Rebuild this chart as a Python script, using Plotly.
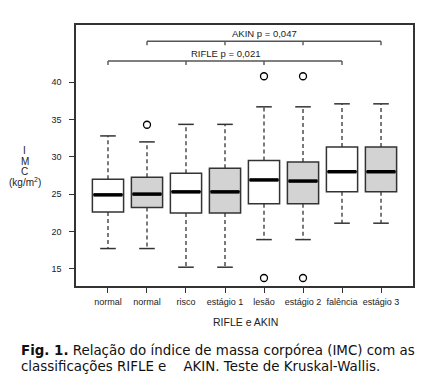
import plotly.graph_objects as go

categories = ["normal", "normal", "risco", "estágio 1", "lesão", "estágio 2", "falência", "estágio 3"]
positions = [1, 2, 3, 4, 5, 6, 7, 8]
fills = ["white", "#d3d3d3", "white", "#d3d3d3", "white", "#d3d3d3", "white", "#d3d3d3"]
lower_whisker = [17.7, 17.7, 15.2, 15.2, 18.9, 18.9, 21.1, 21.1]
q1 = [22.6, 23.2, 22.45, 22.45, 23.7, 23.7, 25.3, 25.3]
median = [24.9, 25.0, 25.3, 25.3, 26.9, 26.75, 28.0, 28.0]
q3 = [27.0, 27.25, 27.8, 28.45, 29.5, 29.3, 31.3, 31.3]
upper_whisker = [32.8, 32.0, 34.35, 34.35, 36.7, 36.7, 37.1, 37.1]
outlier_x = [2, 5, 5, 6, 6]
outlier_y = [34.3, 40.8, 13.75, 40.8, 13.75]

rifle_groups = [1, 3, 5, 7]
akin_groups = [2, 4, 6, 8]
rifle_level = 42.85
akin_level = 45.5
bracket_drop = 0.55
rifle_label = "RIFLE p = 0,021"
akin_label = "AKIN p = 0,047"
y_title_lines = ["I", "M", "C", "(kg/m<sup>2</sup>)"]

# page body has an 8px default margin; the figure is sized to compensate
OFF = 8
W, H = 437 - 2 * OFF, 388 - 2 * OFF
PL, PR, PT, PB = 76, 413, 25, 286  # plot area in page pixels
ML, MT = PL - OFF, PT - OFF
MR = W - ML - (PR - PL)
MB = H - MT - (PB - PT)
LINE = "#333333"
FONT = "Liberation Sans, Arial, sans-serif"

fig = go.Figure()
BW = 0.8
CAP = 0.2
for i, x in enumerate(positions):
    fig.add_trace(go.Box(
        x=[x], q1=[q1[i]], median=[median[i]], q3=[q3[i]],
        lowerfence=[q1[i]], upperfence=[q3[i]],
        width=BW, whiskerwidth=0, fillcolor=fills[i],
        line=dict(color=LINE, width=1.5), boxpoints=False,
        showlegend=False, hoverinfo="skip"))

for i, x in enumerate(positions):
    fig.add_trace(go.Scatter(x=[x, x, None, x, x],
                             y=[q3[i], upper_whisker[i], None, q1[i], lower_whisker[i]],
                             mode="lines", line=dict(color=LINE, width=1.3, dash="4px,3px"),
                             showlegend=False, hoverinfo="skip"))
    fig.add_trace(go.Scatter(x=[x - CAP, x + CAP, None, x - CAP, x + CAP],
                             y=[upper_whisker[i], upper_whisker[i], None, lower_whisker[i], lower_whisker[i]],
                             mode="lines", line=dict(color=LINE, width=1.5),
                             showlegend=False, hoverinfo="skip"))
    fig.add_trace(go.Scatter(x=[x - BW / 2 + 0.03, x + BW / 2 - 0.03], y=[median[i], median[i]],
                             mode="lines", line=dict(color="black", width=3.5),
                             showlegend=False, hoverinfo="skip"))

fig.add_trace(go.Scatter(x=outlier_x, y=outlier_y, mode="markers",
                         marker=dict(symbol="circle-open", size=7, color="black", line=dict(width=1.3)),
                         showlegend=False, hoverinfo="skip"))


def bracket(groups, level):
    xs, ys = [groups[0], groups[-1], None], [level, level, None]
    for g in groups:
        xs += [g, g, None]
        ys += [level, level - bracket_drop, None]
    fig.add_trace(go.Scatter(x=xs, y=ys, mode="lines", line=dict(color="#555555", width=1.4),
                             showlegend=False, hoverinfo="skip"))


bracket(akin_groups, akin_level)
bracket(rifle_groups, rifle_level)

fig.add_annotation(x=(akin_groups[0] + akin_groups[-1]) / 2, y=akin_level + 1.05, text=akin_label,
                   showarrow=False, xanchor="center", yanchor="middle",
                   font=dict(family=FONT, size=9.5, color="#222"))
fig.add_annotation(x=(rifle_groups[0] + rifle_groups[-1]) / 2, y=rifle_level + 0.95, text=rifle_label,
                   showarrow=False, xanchor="center", yanchor="middle",
                   font=dict(family=FONT, size=9.5, color="#222"))


def px_x(p):
    return (p - PL) / (PR - PL)


def px_y(p):
    return (PB - p) / (PB - PT)


for k, line_text in enumerate(y_title_lines):
    fig.add_annotation(xref="paper", yref="paper", x=px_x(24.5), y=px_y(150.5 + 10.6 * k),
                       xanchor="center", yanchor="middle",
                       text=line_text, showarrow=False,
                       font=dict(family=FONT, size=10, color="#222"))
fig.add_annotation(xref="paper", yref="paper", x=px_x(245), y=px_y(322),
                   xanchor="center", yanchor="middle",
                   text="RIFLE e AKIN", showarrow=False,
                   font=dict(family=FONT, size=10.5, color="#222"))
CAPF = "DejaVu Sans, Verdana, sans-serif"
fig.add_annotation(xref="paper", yref="paper", x=px_x(19), y=px_y(351), xanchor="left", yanchor="middle",
                   text="<b>Fig. 1.</b> Relação do índice de massa corpórea (IMC) com as",
                   showarrow=False, font=dict(family=CAPF, size=13.4, color="#111"))
fig.add_annotation(xref="paper", yref="paper", x=px_x(19), y=px_y(366), xanchor="left", yanchor="middle",
                   text="classificações RIFLE e\u00a0\u00a0\u00a0\u00a0AKIN. Teste de Kruskal-Wallis.",
                   showarrow=False, font=dict(family=CAPF, size=13.4, color="#111"))

fig.update_layout(
    width=W, height=H, margin=dict(l=ML, r=MR, t=MT, b=MB),
    paper_bgcolor="white", plot_bgcolor="white",
    xaxis=dict(range=[0.18, 8.82], tickmode="array", tickvals=positions, ticktext=categories,
               showgrid=False, zeroline=False, showline=True, mirror=True, linecolor=LINE, linewidth=1.5,
               ticks="outside", ticklen=5, tickcolor=LINE, tickwidth=1, ticklabelstandoff=1,
               tickfont=dict(family=FONT, size=9, color="#222")),
    yaxis=dict(range=[12.68, 47.67], tickmode="array", tickvals=[15, 20, 25, 30, 35, 40],
               showgrid=False, zeroline=False, showline=True, mirror=True, linecolor=LINE, linewidth=1.5,
               ticks="outside", ticklen=5, tickcolor=LINE, tickwidth=1, ticklabelstandoff=6,
               tickfont=dict(family=FONT, size=9, color="#222")),
)

fig.write_html("out.html")
